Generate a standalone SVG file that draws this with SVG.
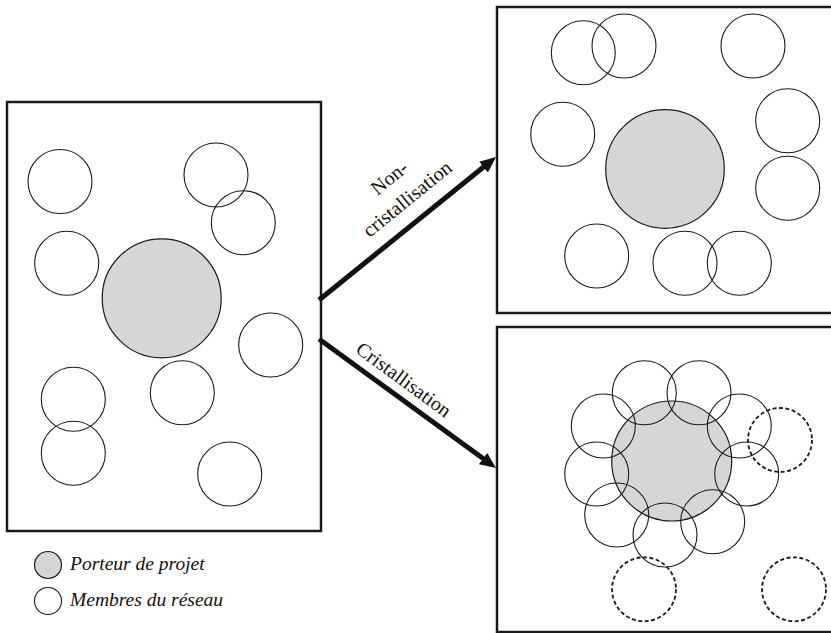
<svg xmlns="http://www.w3.org/2000/svg" width="831" height="633" viewBox="0 0 831 633">
<style>
.box{fill:none;stroke:#1a1a1a;stroke-width:2.5}
.m{fill:none;stroke:#1a1a1a;stroke-width:1.1}
.p{fill:#d5d6d8;stroke:#1a1a1a;stroke-width:1.2}
.d{fill:none;stroke:#1a1a1a;stroke-width:1.8;stroke-dasharray:4 2.5}
.lbl{font-family:"Liberation Serif","Times New Roman",serif;font-size:20px;fill:#111}
.leg{font-family:"Liberation Serif","Times New Roman",serif;font-size:19.5px;font-style:italic;fill:#111}
.arr{fill:none;stroke:#111;stroke-width:5}
</style>
<defs>
<marker id="ah" markerUnits="userSpaceOnUse" markerWidth="16" markerHeight="14" refX="6" refY="7" orient="auto">
<path d="M0,0 L16,7 L0,14 z" fill="#111"/>
</marker>
</defs>
<rect width="831" height="633" fill="#fff"/>

<g id="state-initial">
<rect class="box" x="7" y="102" width="314" height="429"/>
<circle class="m" cx="60" cy="181.5" r="32"/>
<circle class="m" cx="216" cy="175" r="32"/>
<circle class="m" cx="243.3" cy="222.7" r="32"/>
<circle class="m" cx="66.7" cy="263.3" r="32"/>
<circle class="p" cx="161.7" cy="298.3" r="59.5"/>
<circle class="m" cx="270.7" cy="345" r="32"/>
<circle class="m" cx="73.3" cy="399.3" r="32"/>
<circle class="m" cx="182.3" cy="392.7" r="32"/>
<circle class="m" cx="73.3" cy="453.3" r="32"/>
<circle class="m" cx="229.7" cy="474" r="32"/>
</g>

<g id="state-non-cristallisation">
<rect class="box" x="497" y="7" width="340" height="306"/>
<circle class="m" cx="583.3" cy="52.7" r="32"/>
<circle class="m" cx="624" cy="46" r="32"/>
<circle class="m" cx="753" cy="46" r="32"/>
<circle class="m" cx="562.7" cy="134.3" r="32"/>
<circle class="p" cx="665" cy="169" r="59.3"/>
<circle class="m" cx="787.7" cy="120.7" r="32"/>
<circle class="m" cx="787.7" cy="188.3" r="32"/>
<circle class="m" cx="596.7" cy="256" r="32"/>
<circle class="m" cx="685" cy="263.3" r="32"/>
<circle class="m" cx="739.3" cy="263.3" r="32"/>
</g>

<g id="state-cristallisation">
<rect class="box" x="497" y="327" width="340" height="305"/>
<circle class="p" cx="671.7" cy="461" r="60"/>
<circle class="m" cx="644.3" cy="392.7" r="32"/>
<circle class="m" cx="699" cy="392.7" r="32"/>
<circle class="m" cx="603.3" cy="426" r="32"/>
<circle class="m" cx="739.3" cy="426" r="32"/>
<circle class="m" cx="596.7" cy="474" r="32"/>
<circle class="m" cx="746.7" cy="474" r="32"/>
<circle class="m" cx="616.7" cy="515" r="32"/>
<circle class="m" cx="712.7" cy="521.7" r="32"/>
<circle class="m" cx="665" cy="535" r="32"/>
<circle class="d" cx="780" cy="440" r="32"/>
<circle class="d" cx="644" cy="589.3" r="32"/>
<circle class="d" cx="794" cy="589.3" r="32"/>
</g>

<g id="connectors">
<line class="arr" x1="319" y1="300" x2="488.2" y2="163.3" marker-end="url(#ah)"/>
<line class="arr" x1="319" y1="339" x2="487.9" y2="462.1" marker-end="url(#ah)"/>
<text class="lbl" text-anchor="middle" transform="translate(389,177.5) rotate(-39.1)" dy="0.35em">Non-</text>
<text class="lbl" text-anchor="middle" transform="translate(407,198.5) rotate(-39.1)" dy="0.35em">cristallisation</text>
<text class="lbl" text-anchor="middle" transform="translate(404,379.3) rotate(36.2)" dy="0.35em">Cristallisation</text>
</g>

<g id="legend">
<circle class="p" cx="48" cy="565" r="13.5"/>
<text class="leg" x="70" y="570">Porteur de projet</text>
<circle class="m" cx="48" cy="601" r="13.5"/>
<text class="leg" x="70" y="606">Membres du réseau</text>
</g>
</svg>
